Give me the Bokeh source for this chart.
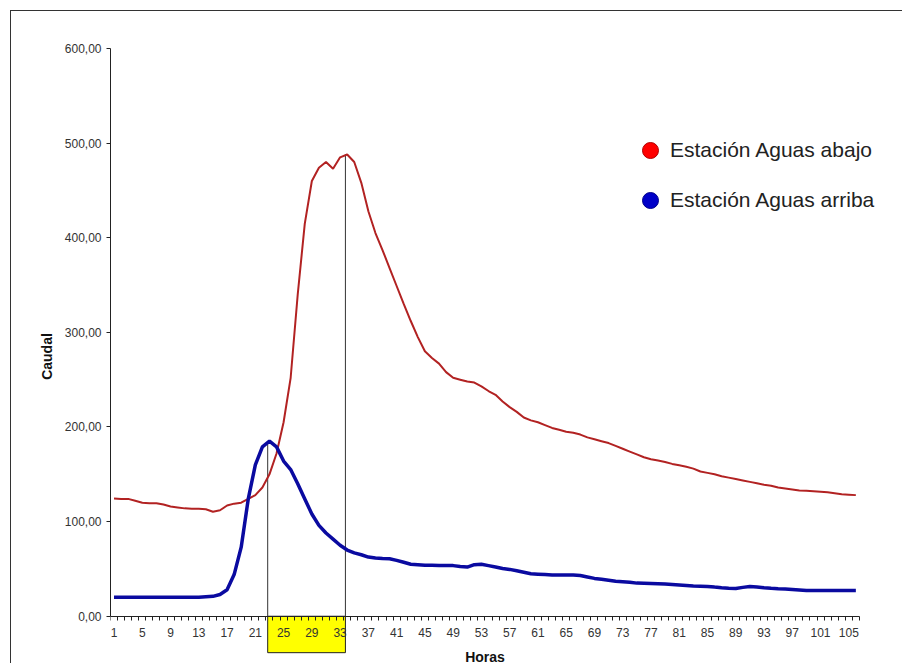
from bokeh.plotting import figure
from bokeh.models import FixedTicker, Legend, LegendItem, Range1d
from bokeh.embed import file_html
from bokeh.resources import INLINE

horas = list(range(1, 107))
aguas_abajo = [
    124.5, 124, 124, 122, 120, 119.5, 119.5, 118, 116, 115,
    114, 113.5, 113.5, 113, 110.5, 112, 117, 119, 120, 124,
    128, 136, 150, 172, 205, 252, 340, 415, 460, 474,
    480, 473, 485, 488, 480, 458, 428, 405, 387, 368,
    349, 330, 312, 295, 280, 273, 267, 258, 252, 250,
    248, 247, 243, 238, 234, 227, 221, 216, 210, 207,
    205, 202, 199, 197, 195, 194, 192, 189, 187, 185,
    183, 180, 177, 174, 171, 168, 166, 164.5, 163, 161,
    159.5, 158, 156, 153, 151.5, 150, 148, 146.5, 145, 143.5,
    142, 140.5, 139, 138, 136, 135, 134, 133, 132.5, 132,
    131.5, 131, 130, 129, 128.5, 128,
]
aguas_arriba = [
    20, 20, 20, 20, 20, 20, 20, 20, 20, 20,
    20, 20, 20, 20.5, 21, 23, 28, 44, 73, 124,
    160, 179, 185, 179, 164, 155, 140, 124, 108, 96,
    88, 81.5, 75, 70, 67, 65, 62.5, 61.5, 61, 60.7,
    59, 57, 55, 54.5, 54, 54, 53.7, 53.6, 53.5, 52.5,
    52, 54.5, 55, 53.5, 52, 50.5, 49.5, 48, 46.5, 45,
    44.5, 44, 43.5, 43.5, 43.5, 43.5, 43, 41.5, 40, 39,
    38, 37, 36.5, 36, 35, 34.8, 34.6, 34.3, 34, 33.5,
    33, 32.5, 32, 31.8, 31.5, 30.8, 30.2, 29.7, 29.3, 30.5,
    31.4, 31, 30.2, 29.5, 29, 28.8, 28.3, 27.8, 27.3, 27.2,
    27.2, 27.2, 27.2, 27.2, 27.2, 27.2,
]
y_ticks = [0, 100, 200, 300, 400, 500, 600]
y_tick_labels = ["0,00", "100,00", "200,00", "300,00", "400,00", "500,00", "600,00"]
x_tick_labels = list(range(1, 106, 4))
series_names = ["Estación Aguas abajo", "Estación Aguas arriba"]

FONT = "Liberation Sans"

x_lo, x_hi = horas[0] - 0.5, horas[-1] + 0.5
px_per_hour = 7.065
frame_w = 785
p = figure(width=99 + frame_w + 8, height=653,
           x_range=Range1d(x_lo, x_lo + frame_w / px_per_hour), y_range=Range1d(-51, 600),
           output_backend="svg", toolbar_location=None,
           min_border_left=99, min_border_right=8, min_border_top=37, min_border_bottom=0)
p.styles = {"border-left": "1px solid #333", "border-top": "1px solid #333",
            "margin-left": "10px", "margin-top": "10px"}
p.grid.visible = False
p.outline_line_color = None

# peaks of each series
ib = max(range(len(aguas_arriba)), key=lambda i: aguas_arriba[i])
ir = max(range(len(aguas_abajo)), key=lambda i: aguas_abajo[i])
xb, xr = horas[ib], horas[ir]

# yellow box below axis between peaks
p.quad(left=[xb - 0.25], right=[xr - 0.25], top=[0], bottom=[-38.5], fill_color="#FFFF00",
       line_color="#222222", line_width=1)
p.segment(x0=[xb - 0.25, xr - 0.25], y0=[0, 0], x1=[xb - 0.25, xr - 0.25],
          y1=[aguas_arriba[ib], aguas_abajo[ir]], line_color="#333333", line_width=1)

p.line(horas, aguas_abajo, line_color="#B22222", line_width=2)
p.line(horas, aguas_arriba, line_color="#0A0AA0", line_width=3.5)

# legend glyphs (not drawn in the plot: NaN y)
nan = float("nan")
r1 = p.scatter(x=[xr], y=[nan], size=16, fill_color="#FF0000", line_color="#B00000")
r2 = p.scatter(x=[xb], y=[nan], size=16, fill_color="#0000C8", line_color="#00008A")
legend = Legend(items=[LegendItem(label=series_names[0], renderers=[r1]),
                       LegendItem(label=series_names[1], renderers=[r2])],
                location=(520, 444), glyph_width=40, glyph_height=40, spacing=10,
                padding=0, margin=0, label_standoff=0, border_line_color=None,
                background_fill_alpha=0, label_text_font=FONT,
                label_text_font_size="21px", label_text_color="#222222")
p.add_layout(legend)

# x axis fixed at 0
xa = p.xaxis[0]
xa.fixed_location = 0
xa.bounds = (x_lo, x_hi)
xa.ticker = FixedTicker(ticks=x_tick_labels, minor_ticks=[h - 0.5 for h in horas] + [x_hi])
xa.major_tick_out = 0
xa.major_tick_in = 0
xa.minor_tick_out = 4
xa.minor_tick_in = 0
xa.axis_line_color = "#222222"
xa.minor_tick_line_color = "#222222"
xa.major_label_standoff = 8
xa.major_label_text_font = FONT
xa.major_label_text_font_size = "12px"
xa.major_label_text_color = "#333333"
xa.axis_label = "Horas"
xa.axis_label_text_font = FONT
xa.axis_label_text_font_size = "14px"
xa.axis_label_text_font_style = "bold"
xa.axis_label_text_color = "#111111"
xa.axis_label_standoff = 8

ya = p.yaxis[0]
ya.bounds = (0, 600)
ya.ticker = FixedTicker(ticks=y_ticks, minor_ticks=[])
ya.major_label_overrides = {t: l for t, l in zip(y_ticks, y_tick_labels)}
ya.major_tick_out = 4
ya.major_tick_in = 0
ya.minor_tick_out = 0
ya.axis_line_color = "#222222"
ya.major_tick_line_color = "#222222"
ya.major_label_standoff = 5
ya.major_label_text_font = FONT
ya.major_label_text_font_size = "12px"
ya.major_label_text_color = "#333333"
ya.axis_label = "Caudal"
ya.axis_label_text_font = FONT
ya.axis_label_text_font_size = "14px"
ya.axis_label_text_font_style = "bold"
ya.axis_label_text_color = "#111111"
ya.axis_label_standoff = 7

open("out.html", "w").write(file_html(p, INLINE))
